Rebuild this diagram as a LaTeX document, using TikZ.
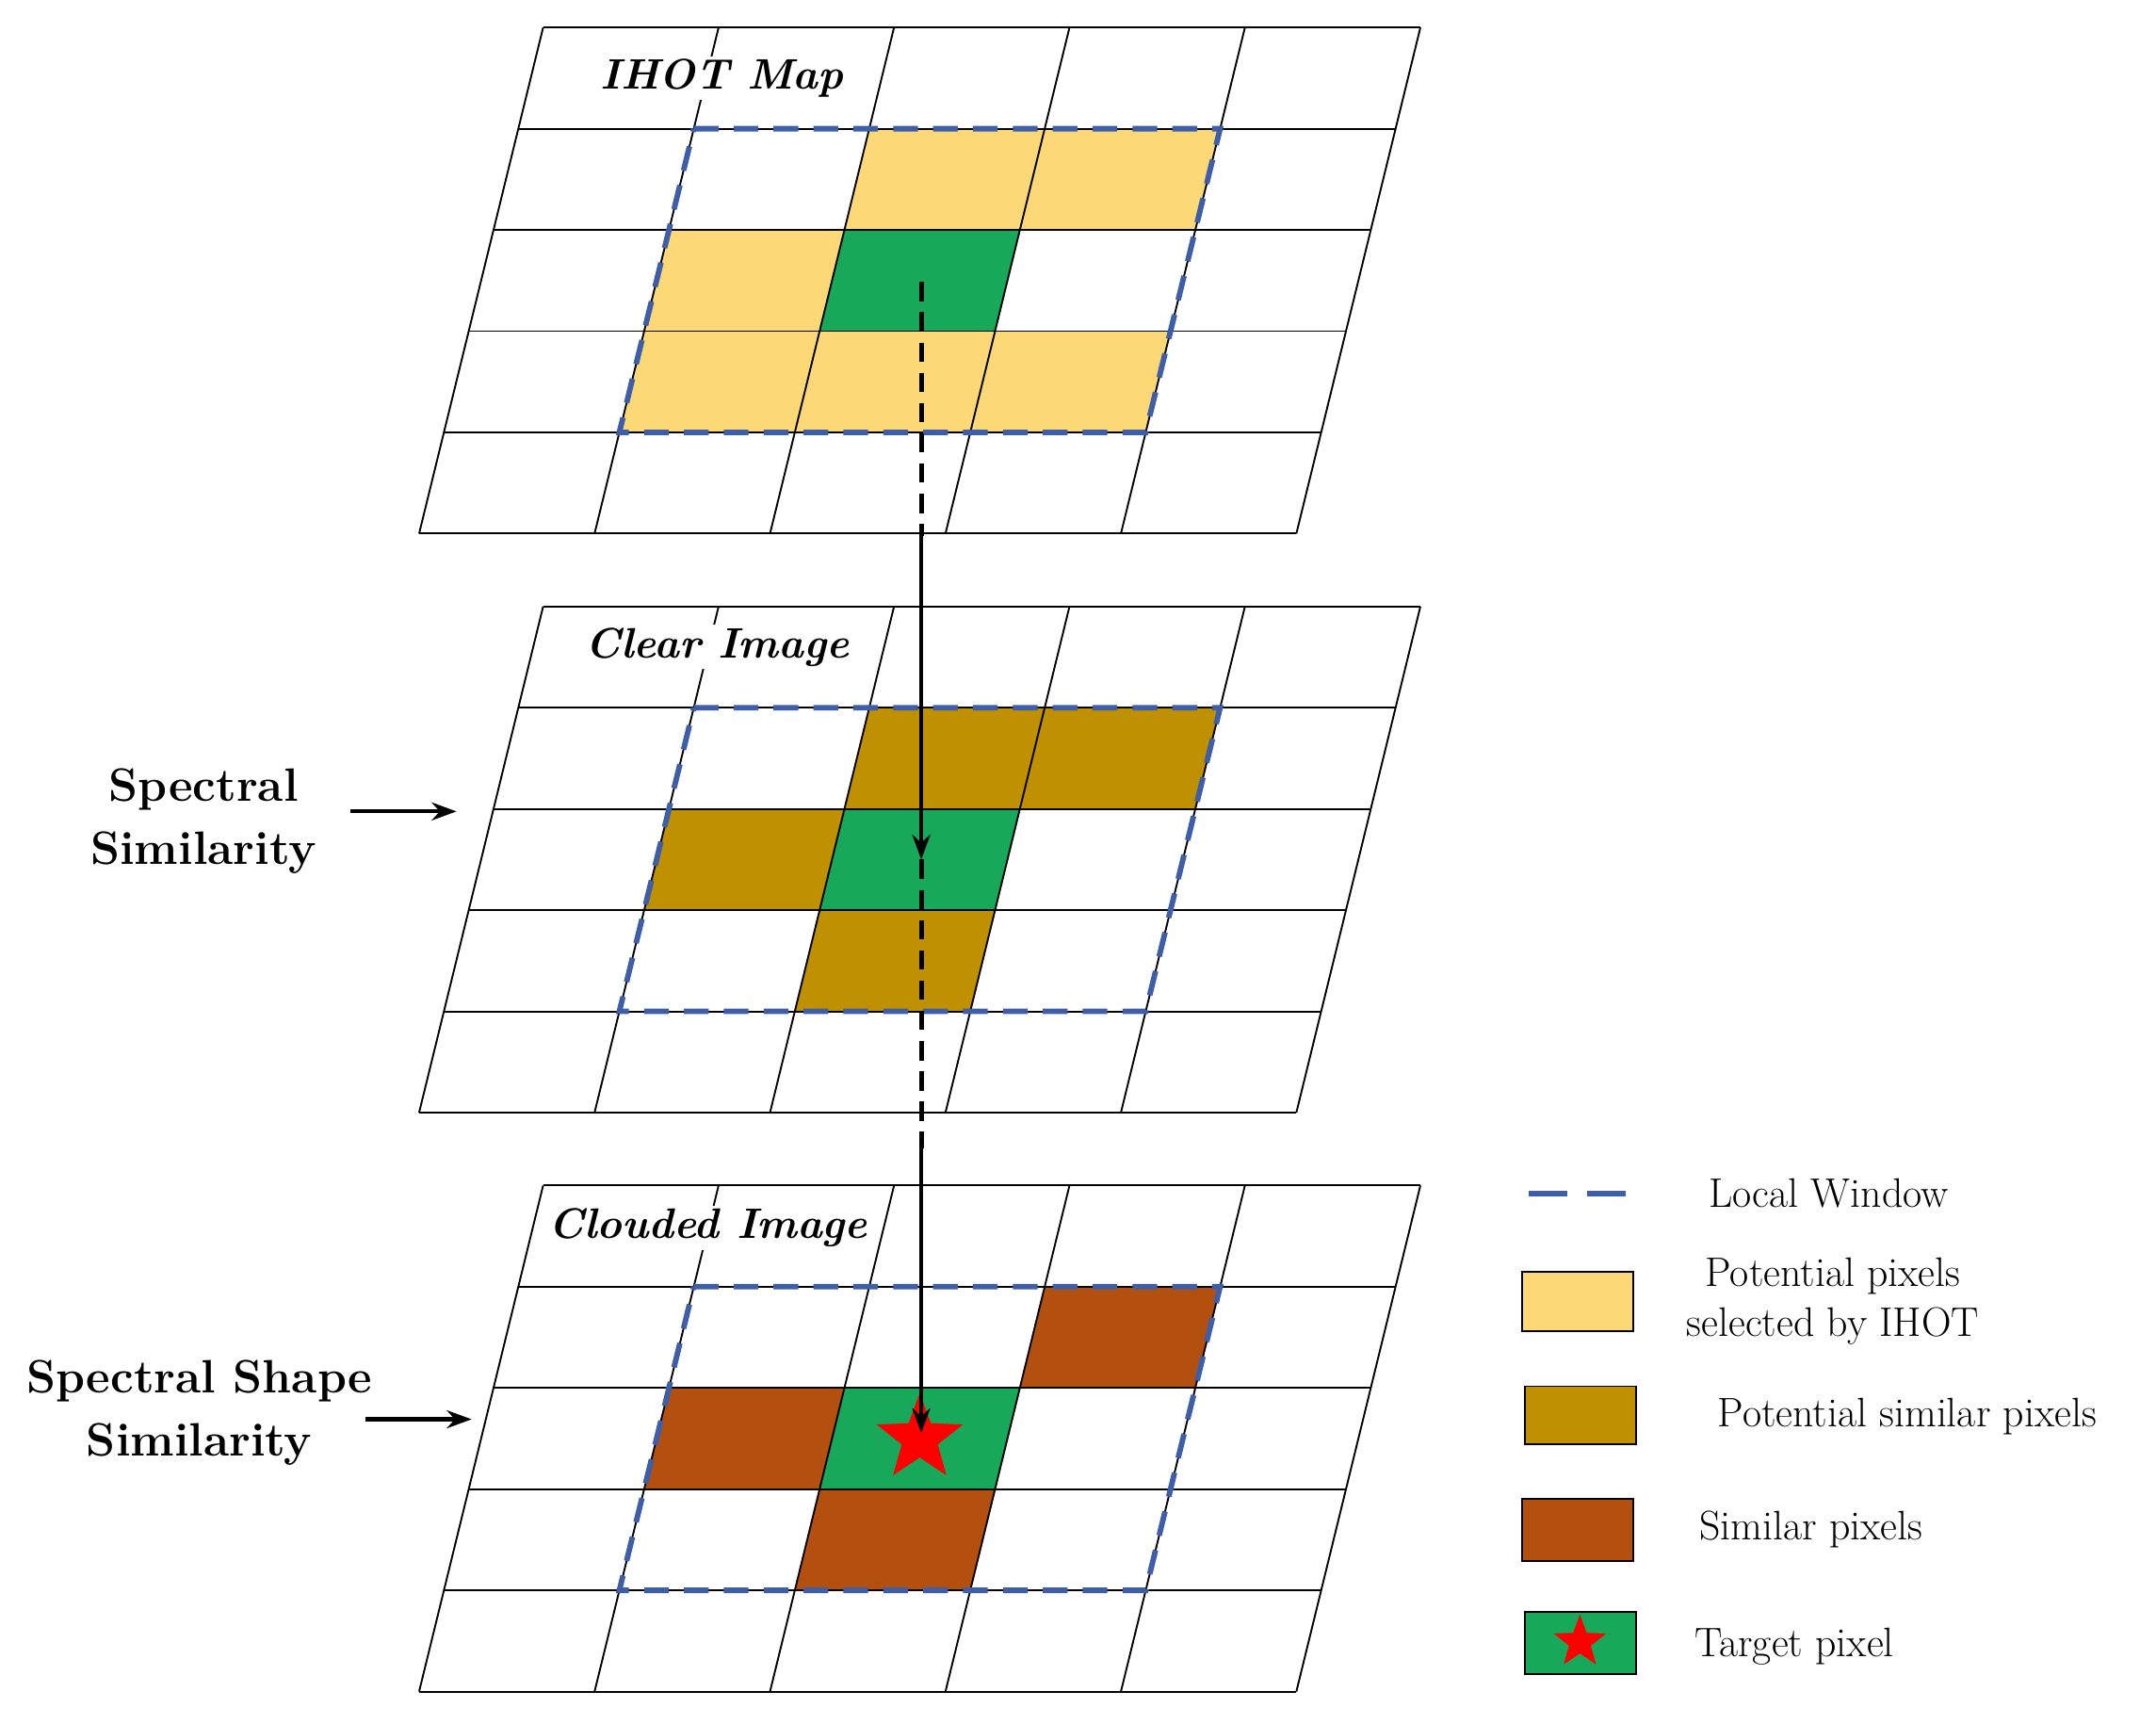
\documentclass[tikz,border=0pt]{standalone}
\usetikzlibrary{shapes.geometric,arrows.meta}
\definecolor{yel}{HTML}{FCD976}
\definecolor{gold}{HTML}{BF9000}
\definecolor{rust}{HTML}{B4500F}
\definecolor{grn}{HTML}{17A85A}
\definecolor{winc}{HTML}{3E5FA8}
\tikzset{
 lay/.style={x={(127.6pt,0pt)},y={(-18.04pt,-73.6pt)}},
 winl/.style={draw=winc,line width=4pt,dash pattern=on 18pt off 11pt},
 ttl/.style={fill=white,inner sep=2pt,font=\fontsize{31}{34}\selectfont\bfseries\itshape},
 lbl/.style={font=\fontsize{34}{46}\selectfont\bfseries,align=center},
 leg/.style={font=\fontsize{30}{40}\selectfont,align=center},
 arr/.style={line width=3pt,-{Stealth[length=18pt,width=13pt]}},
 starn/.style={star,star points=5,star point ratio=2.4,fill=red,inner sep=0pt,minimum size=#1},
}
\newcommand{\cel}[3]{\fill[#3] (#1,#2)--++(1,0)--++(0,1)--++(-1,0)--cycle;}
\newcommand{\grd}{\foreach \i in {0,...,5}{\draw[line width=1.3pt] (0,\i)--(5,\i); \draw[line width=1.3pt] (\i,0)--(\i,5);}\draw[winl] (1,1)--(4,1)--(4,4)--(1,4)--cycle;}
\begin{document}
\begin{tikzpicture}[x=1pt,y=1pt]
\useasboundingbox[fill=white] (0,0) rectangle (1568,-1253);
% top layer
\begin{scope}[shift={(395pt,-20pt)},lay]
\cel{2}{1}{yel}\cel{3}{1}{yel}\cel{1}{2}{yel}\cel{2}{2}{grn}\cel{1}{3}{yel}\cel{2}{3}{yel}\cel{3}{3}{yel}
\grd
\node[ttl] (t1) at (1.09,0.5) {IHOT Map};
\end{scope}
% middle layer
\begin{scope}[shift={(395pt,-441pt)},lay]
\cel{2}{1}{gold}\cel{3}{1}{gold}\cel{1}{2}{gold}\cel{2}{2}{grn}\cel{2}{3}{gold}
\grd
\node[ttl] (t2) at (1.05,0.4) {Clear Image};
\end{scope}
% bottom layer
\begin{scope}[shift={(395pt,-862pt)},lay]
\cel{3}{1}{rust}\cel{1}{2}{rust}\cel{2}{2}{grn}\cel{2}{3}{rust}
\grd
\node[ttl] (t3) at (1.0,0.42) {Clouded Image};
\node[starn=66pt] (st) at (2.5,2.5) {};
\end{scope}
% vertical arrows
\coordinate (a0) at (670,-205);
\coordinate (a1) at (670,-390);
\coordinate (a2) at (670,-625);
\coordinate (a3) at (670,-835);
\coordinate (a4) at (670,-1042);
\draw[line width=3.5pt,dash pattern=on 14pt off 8pt] (a0)--(a1);
\draw[arr] (a1)--(a2);
\draw[line width=3.5pt,dash pattern=on 14pt off 8pt] (a2)--(a3);
\draw[arr] (a3)--(a4);
% left labels
\node[lbl] (s1) at (148,-597) {Spectral\\Similarity};
\coordinate (s1e) at (332,-590);
\draw[arr] (255,-590)--(s1e);
\node[lbl] (s2) at (145,-1027) {Spectral Shape\\Similarity};
\coordinate (s2e) at (343,-1032);
\draw[arr] (266,-1032)--(s2e);
% legend
\draw[winl,dash pattern=on 28pt off 14pt] (1112,-868)--(1192,-868);
\node[leg] at (1330,-868) {Local Window};
\draw[line width=1.3pt,fill=yel] (1107,-925) rectangle (1188,-968);
\node[leg,font=\fontsize{30}{36}\selectfont] at (1333,-946) {Potential pixels\\selected by IHOT};
\draw[line width=1.3pt,fill=gold] (1109,-1008) rectangle (1190,-1050);
\node[leg] at (1387,-1030) {Potential similar pixels};
\draw[line width=1.3pt,fill=rust] (1107,-1090) rectangle (1188,-1135);
\node[leg] at (1317,-1112) {Similar pixels};
\draw[line width=1.3pt,fill=grn] (1109,-1172) rectangle (1190,-1217);
\node[starn=40pt] at (1149,-1194) {};
\node[leg] at (1305,-1197) {Target pixel};
\end{tikzpicture}
\end{document}
